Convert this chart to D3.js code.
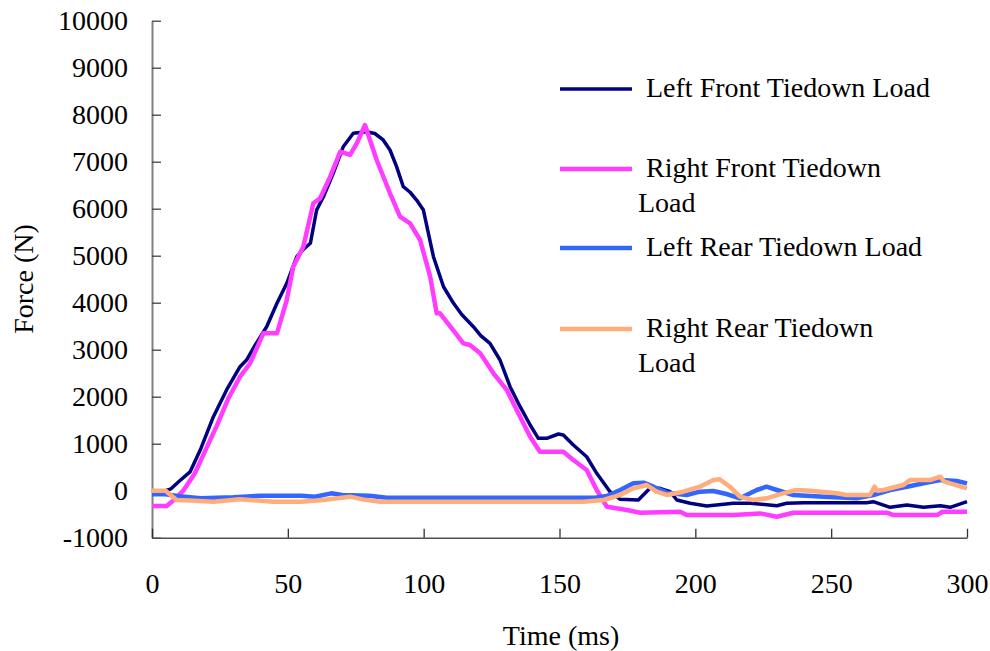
<!DOCTYPE html>
<html>
<head>
<meta charset="utf-8">
<script src="https://cdn.jsdelivr.net/npm/d3@7"></script>
<style>
  body { margin: 0; background: #fff; }
  text { font-family: "Liberation Serif", "Times New Roman", serif; fill: #000; }
</style>
</head>
<body>
<div id="chart"></div>
<script>
  // time (ms) / force (N)
  var lfTime = [0, 5, 7, 10, 14, 18, 22.6, 27.5, 32.4, 34.8, 38, 42.2, 46, 49.6, 53.3, 56, 58.3, 60.6, 63.1, 66.7, 70.4, 74.1, 79, 82, 85.1, 87.6, 90, 92.5, 95, 97.4, 99.9, 103.6, 107.3, 111, 114, 118.3, 121, 124.4, 128.1, 131.8, 135.5, 139.2, 142.2, 145.3, 149.6, 151.4, 155.1, 160, 163.7, 168.6, 172.3, 179, 183.3, 187, 190.7, 193.2, 198.1, 204.2, 214, 220.2, 230, 233.6, 240, 250, 263, 265.5, 271.7, 277.9, 284, 290.2, 293.8, 300];
  var lfLoad = [0, 0, 40, 200, 400, 900, 1574, 2150, 2638, 2780, 3100, 3489, 3987, 4413, 4979, 5150, 5264, 5972, 6255, 6753, 7319, 7604, 7638, 7600, 7462, 7249, 6900, 6468, 6350, 6185, 5972, 4979, 4340, 3987, 3750, 3489, 3300, 3136, 2781, 2213, 1787, 1398, 1115, 1115, 1206, 1185, 972, 723, 370, -21, -183, -198, 51, 51, -21, -198, -268, -326, -268, -268, -319, -268, -255, -255, -255, -234, -354, -305, -354, -319, -354, -234];

  var rfTime = [0, 5.4, 8, 11.5, 15.8, 20, 24, 28, 32.4, 36.1, 41, 46, 49.6, 52, 55.7, 59.4, 61.9, 65.6, 69.3, 72.9, 75.4, 78.4, 82.7, 87.6, 91.3, 95, 98.7, 102.4, 104.8, 106, 109.7, 114.6, 117, 120.8, 125.7, 130.6, 135.5, 139.2, 142.8, 151.4, 155.1, 160, 163.7, 167.4, 174.8, 179.7, 194.4, 196.8, 214, 223.8, 230, 236.1, 250, 270.5, 272.9, 289, 291, 300];
  var rfLoad = [-326, -326, -200, 0, 370, 900, 1400, 1950, 2425, 2711, 3349, 3349, 4057, 4766, 5191, 6115, 6221, 6681, 7213, 7143, 7391, 7781, 7036, 6328, 5830, 5689, 5334, 4553, 3774, 3774, 3500, 3136, 3100, 2923, 2498, 2143, 1574, 1149, 830, 830, 653, 440, 15, -340, -411, -468, -447, -518, -518, -483, -553, -468, -468, -468, -518, -518, -447, -447];

  var lrTime = [0, 5, 10, 18, 30, 40, 55, 60, 66, 70, 80, 86.4, 163, 167.4, 172.3, 177.2, 180.9, 184.6, 189.5, 196.8, 201.7, 206.6, 211.5, 216.4, 222.6, 226.2, 230, 236.1, 247.2, 259.4, 265.5, 271.7, 277.9, 284, 290.2, 296.3, 300];
  var lrLoad = [-77, -77, -120, -162, -140, -106, -106, -130, -56, -90, -106, -148, -148, -113, 15, 157, 170, 85, -42, -91, -21, -6, -70, -162, 15, 85, 15, -91, -127, -162, -91, 15, 85, 157, 227, 206, 157];

  var rrTime = [0, 5, 9, 14, 22.6, 32.4, 44.7, 55, 63.1, 72.9, 78, 84, 158.8, 166.2, 172.3, 177.2, 182.1, 185.8, 189.5, 195.6, 201.7, 206.6, 209, 212.7, 216.4, 221.3, 226.2, 232.3, 237.2, 242.2, 252, 255.7, 264.3, 266, 267, 269.2, 276.6, 279, 286.4, 290.2, 291.5, 293.8, 300];
  var rrLoad = [0, 0, -198, -210, -234, -183, -234, -234, -198, -127, -190, -234, -234, -198, -91, 51, 121, -21, -91, -21, 85, 227, 242, 85, -127, -198, -162, -56, 15, 0, -56, -91, -91, 85, 0, 15, 121, 227, 227, 298, 200, 157, 51];

  var seriesNames = ["Left Front Tiedown Load", "Right Front Tiedown Load", "Left Rear Tiedown Load", "Right Rear Tiedown Load"];
  // legend text as it wraps in the picture
  var legendLines = [["Left Front Tiedown Load"], ["Right Front Tiedown", "Load"], ["Left Rear Tiedown Load"], ["Right Rear Tiedown", "Load"]];
  var xTicks = [0, 50, 100, 150, 200, 250, 300];
  var yTicks = [-1000, 0, 1000, 2000, 3000, 4000, 5000, 6000, 7000, 8000, 9000, 10000];

  var colors = ["#000080", "#ff3cff", "#3366ff", "#ffad7a"];
  var widths = [3.5, 4.5, 4.5, 4.5];

  var series = [
    {name: seriesNames[0], t: lfTime, v: lfLoad},
    {name: seriesNames[1], t: rfTime, v: rfLoad},
    {name: seriesNames[2], t: lrTime, v: lrLoad},
    {name: seriesNames[3], t: rrTime, v: rrLoad}
  ];

  var W = 990, H = 651;
  var plotLeft = 152, plotRight = 967, plotTop = 20.7, plotBottom = 537.7;

  var svg = d3.select("#chart").append("svg")
      .attr("width", W)
      .attr("height", H);

  var x = d3.scaleLinear().domain([0, 300]).range([plotLeft, plotRight]);
  var y = d3.scaleLinear().domain([-1000, 10000]).range([plotBottom, plotTop]);

  // plain hyphen for negatives, like the original
  var plainFmt = function(d) { return String(d); };

  // y axis, ticks pointing into the plot
  var yAxis = svg.append("g")
      .attr("transform", "translate(" + plotLeft + ",0)")
      .call(d3.axisLeft(y).tickValues(yTicks).tickSizeInner(-9).tickSizeOuter(0).tickPadding(24).tickFormat(plainFmt));
  yAxis.select(".domain").attr("stroke", "#808080").attr("stroke-width", 2);
  yAxis.selectAll(".tick line").attr("stroke", "#404040").attr("stroke-width", 1.3);
  yAxis.selectAll(".tick text").style("font-size", "28px").style("font-family", "Liberation Serif");

  // x axis
  var xAxis = svg.append("g")
      .attr("transform", "translate(0," + plotBottom + ")")
      .call(d3.axisBottom(x).tickValues(xTicks).tickSizeInner(-9).tickSizeOuter(0).tickPadding(35).tickFormat(plainFmt));
  xAxis.select(".domain").attr("stroke", "#505050").attr("stroke-width", 1.6);
  xAxis.selectAll(".tick line").attr("stroke", "#303030").attr("stroke-width", 1.3);
  xAxis.selectAll(".tick text").style("font-size", "28px").style("font-family", "Liberation Serif");

  // axis titles
  svg.append("text")
      .attr("x", 561)
      .attr("y", 645)
      .attr("text-anchor", "middle")
      .style("font-size", "28px")
      .text("Time (ms)");

  svg.append("text")
      .attr("transform", "translate(33,279) rotate(-90)")
      .attr("text-anchor", "middle")
      .style("font-size", "28px")
      .text("Force (N)");

  // lines
  var line = d3.line()
      .x(function(d) { return x(d[0]); })
      .y(function(d) { return y(d[1]); });

  svg.append("g")
    .selectAll("path")
    .data(series)
    .enter().append("path")
      .attr("d", function(s) { return line(d3.zip(s.t, s.v)); })
      .attr("fill", "none")
      .attr("stroke", function(d, i) { return colors[i]; })
      .attr("stroke-width", function(d, i) { return widths[i]; })
      .attr("stroke-linejoin", "round");

  // legend
  var legY = [89, 169, 248, 329];
  var leg = svg.append("g")
    .selectAll("g")
    .data(legendLines)
    .enter().append("g")
      .attr("transform", function(d, i) { return "translate(0," + legY[i] + ")"; });

  leg.append("line")
      .attr("x1", 560).attr("x2", 632)
      .attr("y1", 0).attr("y2", 0)
      .attr("stroke", function(d, i) { return colors[i]; })
      .attr("stroke-width", function(d, i) { return widths[i]; });

  leg.each(function(d) {
    var g = d3.select(this);
    d.forEach(function(txt, j) {
      g.append("text")
        .attr("x", j === 0 ? 646 : 638)
        .attr("y", 8 + j * 35)
        .style("font-size", "28px")
        .text(txt);
    });
  });
</script>
</body>
</html>
